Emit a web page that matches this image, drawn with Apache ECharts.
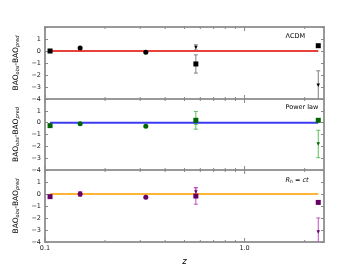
<!DOCTYPE html>
<html><head><meta charset="utf-8">
<script src="https://cdn.jsdelivr.net/npm/echarts@6/dist/echarts.min.js"></script>
<style>html,body{margin:0;padding:0;background:#fff}#c{width:360px;height:270px}</style>
</head><body><div id="c"></div>
<script>
// ---- data ----
const zValues = [0.106, 0.15, 0.32, 0.57, 2.34];
const zPairs = [0.57, 2.34];
const modelLineZ = [0.106, 2.34];
const lcdmMain = [0.0, 0.25, -0.1, -1.08, 0.44];
const lcdmMainErr = [0.08, 0.08, 0.1, 0.76, 0.1];
const lcdmPair = [0.3, -2.85];
const lcdmPairErr = [0.22, 1.2];
const powerMain = [-0.25, -0.1, -0.3, 0.2, 0.2];
const powerMainErr = [0.08, 0.1, 0.1, 0.75, 0.1];
const powerPair = [0.05, -1.8];
const powerPairErr = [0.2, 1.16];
const rhMain = [-0.22, 0.0, -0.28, -0.17, -0.7];
const rhMainErr = [0.08, 0.2, 0.1, 0.68, 0.1];
const rhPair = [0.17, -3.17];
const rhPairErr = [0.37, 1.17];
const xMajorTicks = [0.1, 1.0];
const xMajorLabels = ['0.1', '1.0'];
const xMinorTicks = [0.2, 0.3, 0.4, 0.5, 0.6, 0.7, 0.8, 0.9, 2.0];
const yRange = [-4, 2];

const panels = [
  {main: lcdmMain, mainErr: lcdmMainErr, pair: lcdmPair, pairErr: lcdmPairErr,
   line: '#e8413a', mark: '#000000', err: '#808080'},
  {main: powerMain, mainErr: powerMainErr, pair: powerPair, pairErr: powerPairErr,
   line: '#3b3bf2', mark: '#006400', err: '#5cc05c'},
  {main: rhMain, mainErr: rhMainErr, pair: rhPair, pairErr: rhPairErr,
   line: '#ffb53a', mark: '#660066', err: '#c050c0'}
];
const gridTops = [27, 99, 170];
const gridHeights = [72, 71, 72];
const FONT = 'DejaVu Sans';

const chart = echarts.init(document.getElementById('c'), null, {renderer: 'canvas'});

const grids = [], xAxes = [], yAxes = [], series = [];
panels.forEach((p, i) => {
  grids.push({left: 45, right: 36, top: gridTops[i], height: gridHeights[i],
    show: true, borderColor: '#999', borderWidth: 2, backgroundColor: 'transparent'});
  xAxes.push({type: 'log', logBase: 10, gridIndex: i, min: 0.1, max: 2.5,
    axisLine: {show: false}, axisTick: {show: false}, axisLabel: {show: false},
    splitLine: {show: false},
    name: i === 2 ? 'z' : '', nameLocation: 'middle', nameGap: 15,
    nameTextStyle: {fontFamily: FONT, fontStyle: 'italic', fontSize: 8.5, color: '#000'}});
  yAxes.push({type: 'value', gridIndex: i, min: yRange[0], max: yRange[1], interval: 1,
    axisLine: {show: false}, splitLine: {show: false},
    axisTick: {show: true, inside: true, length: 3, lineStyle: {color: '#888', width: 1}},
    axisLabel: {fontFamily: FONT, fontSize: 6.5, color: '#222', margin: 4,
      formatter: v => v >= 2 ? '' : (v < 0 ? '\u2212' + Math.abs(v) : String(v))},
    name: 'BAO{s|obs}-BAO{s|pred}', nameLocation: 'middle', nameGap: 12, nameRotate: 90,
    nameTextStyle: {fontFamily: FONT, fontSize: 7.5, color: '#000',
      rich: {s: {fontFamily: FONT, fontSize: 5, fontStyle: 'italic', color: '#000', padding: [4, 0, 0, 0]}}}});
  yAxes.push({type: 'value', gridIndex: i, min: yRange[0], max: yRange[1], interval: 1, position: 'right',
    axisLine: {show: false}, splitLine: {show: false}, axisLabel: {show: false},
    axisTick: {show: true, inside: true, length: 3, lineStyle: {color: '#888', width: 1}}});

  const errRender = (params, api) => {
    const x = api.value(0), y = api.value(1), e = api.value(2);
    const t = api.coord([x, y + e]), b = api.coord([x, y - e]);
    const c = 2;
    const st = {stroke: p.err, lineWidth: 1};
    return {type: 'group', children: [
      {type: 'line', shape: {x1: t[0], y1: t[1], x2: b[0], y2: b[1]}, style: st},
      {type: 'line', shape: {x1: t[0] - c, y1: t[1], x2: t[0] + c, y2: t[1]}, style: st},
      {type: 'line', shape: {x1: b[0] - c, y1: b[1], x2: b[0] + c, y2: b[1]}, style: st}
    ]};
  };
  series.push({type: 'custom', xAxisIndex: i, yAxisIndex: 2 * i, clip: true, z: 1,
    renderItem: errRender, data: zValues.map((z, k) => [z, p.main[k], p.mainErr[k]])});
  series.push({type: 'custom', xAxisIndex: i, yAxisIndex: 2 * i, clip: true, z: 1,
    renderItem: errRender, data: zPairs.map((z, k) => [z, p.pair[k], p.pairErr[k]])});
  series.push({type: 'line', xAxisIndex: i, yAxisIndex: 2 * i, z: 2, symbol: 'none',
    lineStyle: {color: p.line, width: 2}, data: modelLineZ.map(z => [z, 0]), silent: true});
  series.push({type: 'scatter', xAxisIndex: i, yAxisIndex: 2 * i, z: 3,
    symbol: (v, prm) => prm.dataIndex === 1 || prm.dataIndex === 2 ? 'circle' : 'rect',
    symbolSize: 5, itemStyle: {color: p.mark, opacity: 1},
    data: zValues.map((z, k) => [z, p.main[k]])});
  series.push({type: 'scatter', xAxisIndex: i, yAxisIndex: 2 * i, z: 3,
    symbol: 'triangle', symbolRotate: 180, symbolSize: 3.5, itemStyle: {color: p.mark, opacity: 1},
    data: zPairs.map((z, k) => [z, p.pair[k]])});
});

chart.setOption({animation: false, backgroundColor: '#fff',
  grid: grids, xAxis: xAxes, yAxis: yAxes, series: series});

// x ticks and labels placed through the axis scale
const g = [];
panels.forEach((p, i) => {
  const yTop = chart.convertToPixel({yAxisIndex: 2 * i}, yRange[1]);
  const yBot = chart.convertToPixel({yAxisIndex: 2 * i}, yRange[0]);
  const addTick = (z, len) => {
    const x = chart.convertToPixel({xAxisIndex: i}, z);
    g.push({type: 'line', shape: {x1: x, y1: yTop, x2: x, y2: yTop + len}, style: {stroke: '#888', lineWidth: 1}, z: 10});
    g.push({type: 'line', shape: {x1: x, y1: yBot, x2: x, y2: yBot - len}, style: {stroke: '#888', lineWidth: 1}, z: 10});
  };
  xMajorTicks.forEach(z => addTick(z, 4));
  xMinorTicks.forEach(z => addTick(z, 2));
  if (i === 2) {
    xMajorTicks.forEach((z, k) => {
      const x = chart.convertToPixel({xAxisIndex: i}, z);
      g.push({type: 'text', x: x, y: yBot + 3, style: {text: xMajorLabels[k], fontFamily: FONT, fontSize: 6.5,
        fill: '#222', align: 'center', verticalAlign: 'top'}, z: 10});
    });
  }
});
const labelX = chart.convertToPixel({xAxisIndex: 0}, 1.0) + 41;
g.push({type: 'text', x: labelX, y: gridTops[0] + 9, style: {text: 'ΛCDM', fontFamily: FONT, fontSize: 6.5, fill: '#000', verticalAlign: 'middle'}, z: 10});
g.push({type: 'text', x: labelX, y: gridTops[1] + 8, style: {text: 'Power law', fontFamily: FONT, fontSize: 6.5, fill: '#000', verticalAlign: 'middle'}, z: 10});
g.push({type: 'text', x: labelX, y: gridTops[2] + 10, style: {text: '{i|R}{s|h}{n| = }{i|ct}', fontFamily: FONT, fontSize: 6.5, fill: '#000', verticalAlign: 'middle',
  rich: {i: {fontFamily: FONT, fontSize: 6.5, fontStyle: 'italic', fill: '#000'},
         s: {fontFamily: FONT, fontSize: 4.5, fontStyle: 'italic', fill: '#000', padding: [3, 0, 0, 0]},
         n: {fontFamily: FONT, fontSize: 6.5, fill: '#000'}}}, z: 10});
chart.setOption({graphic: g});
</script>
</body></html>
